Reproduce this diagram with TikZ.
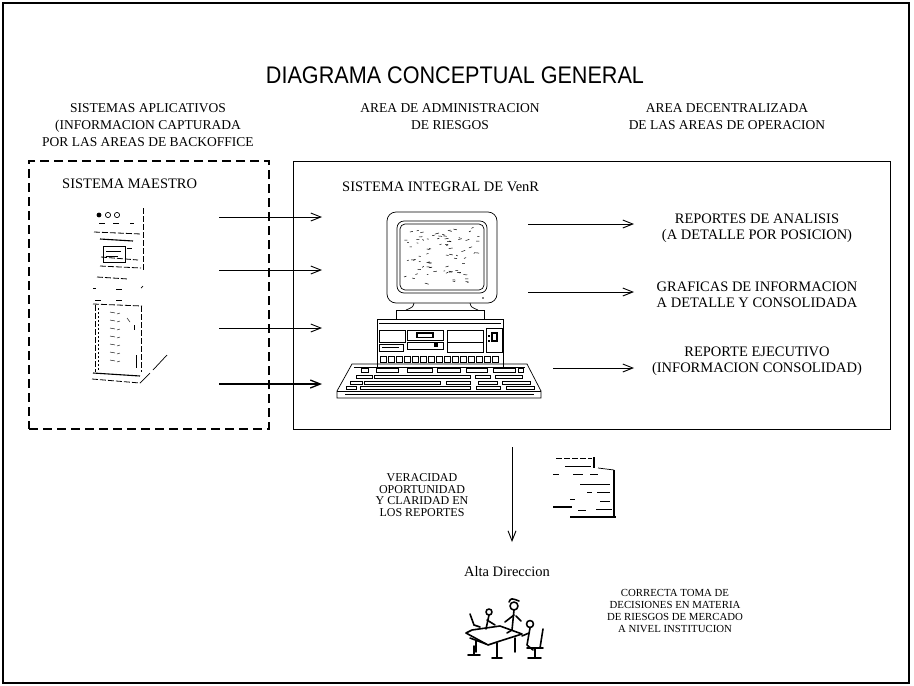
\documentclass[tikz,border=0pt]{standalone}
\usepackage{fontspec}
\setmainfont{Liberation Serif}
\newfontfamily\headsans{Liberation Sans}
\usetikzlibrary{arrows.meta}

\begin{document}
\begin{tikzpicture}[x=1pt,y=-1pt,
  lbl/.style={align=center, inner sep=0pt, font=\fontsize{14.5}{16.5}\selectfont},
  hdr/.style={align=center, inner sep=0pt, font=\fontsize{13.5}{17}\selectfont},
  note/.style={align=center, inner sep=0pt, font=\fontsize{12}{11.8}\selectfont},
  notesm/.style={align=center, inner sep=0pt, font=\fontsize{10.8}{11.7}\selectfont},
  feed/.style={-{Straight Barb[length=10pt,width=8pt]}, line width=0.9pt},
  art/.style={line width=0.7pt},
  thinart/.style={line width=0.45pt},
  srv/.style={line width=0.8pt, dash pattern=on 6pt off 2pt},
  clip art/.style={line width=1.6pt, line cap=round, line join=round},
]
\useasboundingbox (0,0) rectangle (914,686);

% page frame
\node (frame) [draw, line width=1.4pt, minimum width=906pt, minimum height=680pt, inner sep=0pt] at (456,343) {};

% title and column headings
\node (title) at (455,75) {\headsans\fontsize{24}{28}\selectfont\scalebox{0.9}[1]{DIAGRAMA CONCEPTUAL GENERAL}};
\node (hleft) [hdr] at (148,125) {SISTEMAS APLICATIVOS\\(INFORMACION CAPTURADA\\POR LAS AREAS DE BACKOFFICE};
\node (hmid) [hdr] at (450,116.5) {AREA DE ADMINISTRACION\\DE RIESGOS};
\node (hright) [hdr] at (727,116.5) {AREA DECENTRALIZADA\\DE LAS AREAS DE OPERACION};

% the two system boxes
\node (maestro) [draw, line width=1.5pt, dash pattern=on 9pt off 5pt, minimum width=240pt, minimum height=268pt, inner sep=0pt] at (149,295) {};
\node (integral) [draw, line width=0.9pt, minimum width=597pt, minimum height=268pt, inner sep=0pt] at (591.5,295) {};
\node (lmaestro) [lbl, anchor=west] at (62,184) {SISTEMA MAESTRO};
\node (lintegral) [lbl, anchor=west] at (342,187) {SISTEMA INTEGRAL DE VenR};

% report outputs
\node (rep1) [lbl] at (757,228) {REPORTES DE ANALISIS\\(A DETALLE POR POSICION)};
\node (rep2) [lbl] at (757,295) {GRAFICAS DE INFORMACION\\A DETALLE Y CONSOLIDADA};
\node (rep3) [lbl] at (757,361) {REPORTE EJECUTIVO\\(INFORMACION CONSOLIDAD)};

% data feeds from the master system
\foreach \k/\yy in {1/217,2/270,3/328,4/384}{
  \coordinate (src\k) at (219,\yy);
  \coordinate (dst\k) at (322,\yy);
}
\foreach \k in {1,2,3}{ \draw[feed] (src\k) -- (dst\k); }
\draw[feed, line width=1.3pt] (src4) -- (dst4);

% outputs towards the reports
\coordinate (out1) at (528,224);
\coordinate (out2) at (528,292);
\coordinate (out3) at (553,368);
\coordinate (end1) at (634,224);
\coordinate (end2) at (634,292);
\coordinate (end3) at (634,368);
\foreach \k in {1,2,3}{ \draw[feed] (out\k) -- (end\k); }

% flow down to management
\coordinate (down1) at (512,447);
\coordinate (down2) at (512,542);
\draw[feed] (down1) -- (down2);
\node (quality) [note] at (422,495) {VERACIDAD\\OPORTUNIDAD\\Y CLARIDAD EN\\LOS REPORTES};
\node (alta) [inner sep=0pt, font=\fontsize{14.5}{16}\selectfont] at (507,572) {Alta Direccion};
\node (decision) [notesm] at (675,611) {CORRECTA TOMA DE\\DECISIONES EN MATERIA\\DE RIESGOS DE MERCADO\\A NIVEL INSTITUCION};

% ---------- desktop computer ----------
% monitor
\draw[art, rounded corners=9pt] (387,212) rectangle (497,303);
\draw[art, rounded corners=7pt] (397,221) rectangle (487,293);
\draw[art, rounded corners=5pt] (400,224) rectangle (484,290);
\fill (483,298) circle (0.9);
\pgfmathsetseed{11}
\foreach \i in {1,...,80}{
  \pgfmathsetmacro\px{404+74*rnd}
  \pgfmathsetmacro\py{228+56*rnd}
  \pgfmathsetmacro\dx{1.5+2.5*rnd}
  \pgfmathsetmacro\dy{2.5*rnd-1.25}
  \draw[line width=0.5pt] (\px,\py) -- ++(\dx,\dy);
}
% stand
\draw[art] (414,303) .. controls (413,307) .. (406,310);
\draw[art] (470,303) .. controls (471,307) .. (478,310);
\draw[art] (396,310) rectangle (484,319);
% system unit
\draw[art] (377,319) rectangle (503,367);
\draw[thinart] (379,323) -- (501,323);
\draw[art] (379,330) rectangle (405,342);
\draw[thinart] (379,344) rectangle (403,351);
\draw[thinart] (382,347.5) -- (399,347.5);
\draw[art] (407,330) rectangle (443,340);
\draw[line width=1.2pt] (417,333) rectangle (433,337.5);
\draw[thinart] (407,342) rectangle (443,349);
\fill (434,342) rectangle (438,347);
\draw[art] (447,330) rectangle (483,352);
\draw[thinart] (447,342) -- (483,342);
\draw[art] (486,328) rectangle (502,352);
\draw[line width=1.1pt] (492,333) rectangle (497,341);
\fill (488,335) rectangle (490,337);
\fill (488,340) rectangle (490,342);
\foreach \xx in {380,388,...,496}{ \draw[thinart] (\xx,356) rectangle ++(6,6); }
% keyboard
\draw[art] (352,364) -- (527,364) -- (541,391) -- (541,398) -- (337,398) -- (337,391) -- cycle;
\draw[thinart] (337,391) -- (541,391);
\draw[thinart] (354,367) -- (525,367);
\foreach \xa/\xb in {361/368,376/398,407/432,437/460,466/487,493/515,518/523}{
  \draw[thinart] (\xa,368.5) rectangle (\xb,372.5);
}
\foreach \xa/\xb in {356/372,374/470,475/490,495/522}{
  \draw[thinart] (\xa,375) rectangle (\xb,378);
}
\foreach \xa/\xb in {350/362,364/440,446/470,478/497,502/530}{
  \draw[thinart] (\xa,381) rectangle (\xb,384);
}
\foreach \xa/\xb in {346/356,360/470,476/500,506/534}{
  \draw[thinart] (\xa,386.5) rectangle (\xb,389.5);
}
\draw[thinart] (345,394) -- (534,394);

% ---------- tower server ----------
\fill (99,215) circle (2.4);
\draw[art] (108,215) circle (2.6);
\draw[art] (117,215) circle (2.6);
\draw[srv] (99,223) -- (105,223);
\draw[srv] (113,223) -- (119,223);
\draw[srv] (130,223) -- (134,223);
\draw[srv] (94,232) -- (141,234);
\draw[line width=1.1pt] (100,239) -- (133,241);
\draw[art] (103,246) rectangle (125,262);
\draw[thinart] (106,251) -- (121,251);
\draw[thinart] (106,256) -- (118,256);
\draw[srv] (127,248) -- (132,248);
\draw[srv] (101,257) -- (138,260);
\draw[srv] (100,266) -- (141,268);
\draw[srv] (143,208) -- (143,270);
\draw[srv] (97,277) -- (128,279);
\draw[art] (93,288) -- (96,288);
\draw[art] (116,289) -- (122,289);
\draw[art] (141,288) -- (143,286);
\draw[art] (95,300) -- (101,300);
\draw[art] (116,300) -- (122,300);
\draw[srv] (93,304) -- (142,306);
\draw[srv] (95,305) -- (95,372);
\draw[srv] (141,306) -- (141,372);
\draw[thinart, dash pattern=on 2pt off 2pt] (98,308) -- (98,370);
\foreach \yy in {312,320,328,336,344,352,360}{
  \draw[thinart] (110,\yy) -- ++(5,1);
  \draw[thinart] (117,\yy+2) -- ++(3,-1);
}
\draw[thinart] (127,318) -- (130,322);
\draw[thinart] (134,325) -- (134,330);
\draw[thinart] (136,355) -- (136,368);
\draw[line width=1.1pt] (93,373) -- (140,376);
\draw[srv] (92,379) -- (140,383);
\draw[art] (140,383) -- (150,373);
\draw[art] (153,370) -- (167,355);

% ---------- stacked reports ----------
\draw[srv, line width=0.7pt] (556,458) -- (592,458);
\draw[line width=1.4pt] (594,457) -- (594,468);
\draw[art] (565,466) -- (591,466);
\draw[art] (553,474) -- (559,474);
\draw[art] (573,474) -- (583,474);
\draw[art] (590,474) -- (598,474);
\draw[art] (598,468) -- (614,470);
\draw[line width=1.3pt] (614,470) -- (614,517);
\draw[line width=0.9pt] (580,484) -- (610,484);
\draw[art] (587,492) -- (592,492);
\draw[art] (597,492) -- (610,492);
\draw[art] (570,499) -- (575,499);
\draw[art] (600,501) -- (610,501);
\draw[line width=1.6pt] (553,507) -- (572,507);
\draw[art] (578,510) -- (586,510);
\draw[art] (596,509) -- (612,509);
\draw[line width=1.3pt] (570,517) -- (616,517);

% ---------- meeting ----------
% desk
\draw[clip art] (466,633) -- (472,630) -- (500,626) -- (522,634) -- (500,641) -- (488,645) -- cycle;
\draw[clip art] (470,638) -- (486,644);
\draw[clip art] (476,641) -- (476,652);
\draw[clip art] (497,643) -- (497,658);
\draw[clip art] (492,658) -- (502,658);
\draw[clip art] (515,638) -- (515,652);
% left person with raised arm
\draw[clip art] (489,612) circle (3);
\draw[clip art] (489,615) -- (486,629);
\draw[clip art] (487,620) -- (495,625);
\draw[clip art] (470,614) -- (474,625) -- (480,627);
\draw[clip art] (474,646) -- (474,654);
\draw[clip art] (468,655) -- (480,655);
% standing person
\draw[clip art] (514,606) circle (4);
\draw[clip art] (509,602) .. controls (511,598) .. (519,601);
\draw[clip art] (514,610) -- (512,630);
\draw[clip art] (514,615) -- (505,622);
\draw[clip art] (516,616) -- (521,621);
\draw[clip art] (512,630) -- (507,633);
% right person in chair
\draw[clip art] (530,624) circle (3.5);
\draw[clip art] (530,628) -- (527,645) -- (533,650);
\draw[clip art] (529,633) -- (522,636);
\draw[clip art] (543,629) -- (540,648);
\draw[clip art] (527,648) -- (543,648);
\draw[clip art] (535,648) -- (535,658);
\draw[clip art] (528,658) -- (541,658);
\end{tikzpicture}
\end{document}
